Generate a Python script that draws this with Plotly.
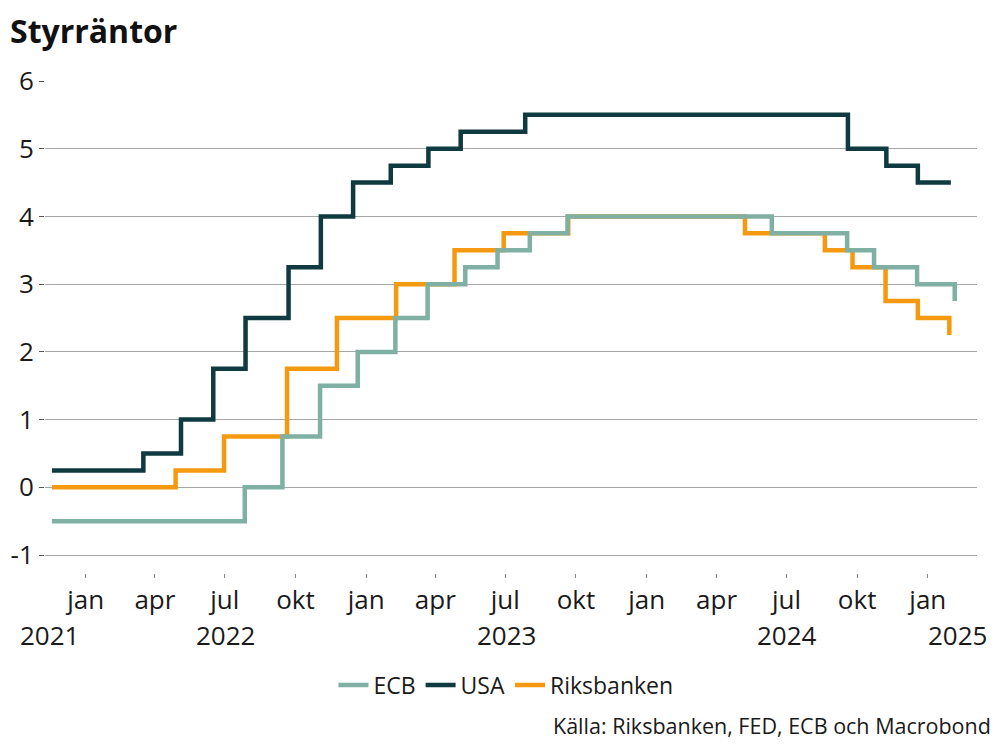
import plotly.graph_objects as go

# --- Data (step-change dates and policy rates, %) ---
ecb_dates = ["2021-11-18", "2022-07-27", "2022-09-14", "2022-11-02", "2022-12-21",
             "2023-02-08", "2023-03-22", "2023-05-10", "2023-06-21", "2023-08-02",
             "2023-09-20", "2024-06-12", "2024-09-18", "2024-10-23", "2024-12-18",
             "2025-02-05"]
ecb_vals = [-0.5, 0.0, 0.75, 1.5, 2.0, 2.5, 3.0, 3.25, 3.5, 3.75, 4.0, 3.75, 3.5,
            3.25, 3.0, 2.75]

usa_dates = ["2021-11-18", "2022-03-17", "2022-05-05", "2022-06-16", "2022-07-28",
             "2022-09-22", "2022-11-03", "2022-12-15", "2023-02-02", "2023-03-23",
             "2023-05-04", "2023-07-27", "2024-09-19", "2024-11-08", "2024-12-19",
             "2025-01-31"]
usa_vals = [0.25, 0.5, 1.0, 1.75, 2.5, 3.25, 4.0, 4.5, 4.75, 5.0, 5.25, 5.5, 5.0,
            4.75, 4.5, 4.5]

riks_dates = ["2021-11-18", "2022-04-28", "2022-06-30", "2022-09-20", "2022-11-24",
              "2023-02-09", "2023-04-26", "2023-06-29", "2023-09-21", "2024-05-08",
              "2024-08-20", "2024-09-25", "2024-11-07", "2024-12-19", "2025-01-29"]
riks_vals = [0.0, 0.25, 0.75, 1.75, 2.5, 3.0, 3.5, 3.75, 4.0, 3.75, 3.5, 3.25,
             2.75, 2.5, 2.25]

month_tickvals = ["2022-01-01", "2022-04-01", "2022-07-01", "2022-10-01",
                  "2023-01-01", "2023-04-01", "2023-07-01", "2023-10-01",
                  "2024-01-01", "2024-04-01", "2024-07-01", "2024-10-01",
                  "2025-01-01"]
month_ticktext = ["jan", "apr", "jul", "okt", "jan", "apr", "jul", "okt",
                  "jan", "apr", "jul", "okt", "jan"]

year_labels = ["2021", "2022", "2023", "2024", "2025"]
year_positions = ["2021-11-15", "2022-07-02", "2023-07-02", "2024-07-02", "2025-02-08"]

y_tickvals = [-1, 0, 1, 2, 3, 4, 5, 6]
y_ticktext = ["-1", "0", "1", "2", "3", "4", "5", "6"]

FONT = "Open Sans"
C_ECB = "#7fb0a3"
C_USA = "#0e3a40"
C_RIKS = "#f59a10"
TXT = "#1a1a1a"

fig = go.Figure()
fig.add_trace(go.Scatter(x=riks_dates, y=riks_vals, name="Riksbanken", mode="lines",
                         line=dict(color=C_RIKS, width=4.5, shape="hv"), legendrank=3))
fig.add_trace(go.Scatter(x=usa_dates, y=usa_vals, name="USA", mode="lines",
                         line=dict(color=C_USA, width=4.5, shape="hv"), legendrank=2))
fig.add_trace(go.Scatter(x=ecb_dates, y=ecb_vals, name="ECB", mode="lines",
                         line=dict(color=C_ECB, width=4.5, shape="hv"), legendrank=1))

annotations = []
for lab, pos in zip(year_labels, year_positions):
    annotations.append(dict(x=pos, xref="x", y=-0.126, yref="paper", text=lab,
                            showarrow=False, xanchor="center", yanchor="middle",
                            font=dict(family=FONT, size=26, color=TXT)))
annotations.append(dict(x=1.0172, xref="paper", y=-0.309, yref="paper",
                        text="Källa: Riksbanken, FED, ECB och Macrobond",
                        showarrow=False, xanchor="right", yanchor="middle",
                        font=dict(family=FONT, size=21.5, color=TXT)))

fig.update_layout(
    width=1008, height=756,
    paper_bgcolor="white", plot_bgcolor="white",
    margin=dict(l=37, r=39, t=73, b=191, autoexpand=False),
    font=dict(family=FONT, color=TXT),
    title=dict(text="<b>Styrräntor</b>", x=2 / 1008, xref="container", xanchor="left",
               y=1 - 24 / 756, yref="container", yanchor="middle",
               pad=dict(l=0, r=0, t=0, b=0),
               font=dict(family=FONT, size=32, color="#111111")),
    showlegend=True,
    legend=dict(orientation="h", x=0.4946, xanchor="center", y=-0.2276, yanchor="middle",
                font=dict(family=FONT, size=23, color=TXT),
                itemwidth=30, tracegroupgap=0),
    annotations=annotations,
)

fig.update_xaxes(
    type="date", automargin=False,
    range=["2021-11-09", "2025-03-06"],
    tickmode="array", tickvals=month_tickvals, ticktext=month_ticktext,
    ticks="outside", ticklen=4, tickcolor="#888888", tickwidth=1,
    showgrid=False, showline=False, zeroline=False,
    tickfont=dict(family=FONT, size=26, color=TXT),
)
fig.update_yaxes(
    automargin=False,
    range=[-1.265, 6.0],
    tickmode="array", tickvals=y_tickvals, ticktext=y_ticktext,
    ticks="outside", ticklen=5, tickcolor="#555555", tickwidth=1,
    showgrid=True, gridcolor="#a6a6a6", gridwidth=1,
    zeroline=False, showline=False,
    tickfont=dict(family=FONT, size=26, color=TXT),
)

fig.write_html("out.html")
